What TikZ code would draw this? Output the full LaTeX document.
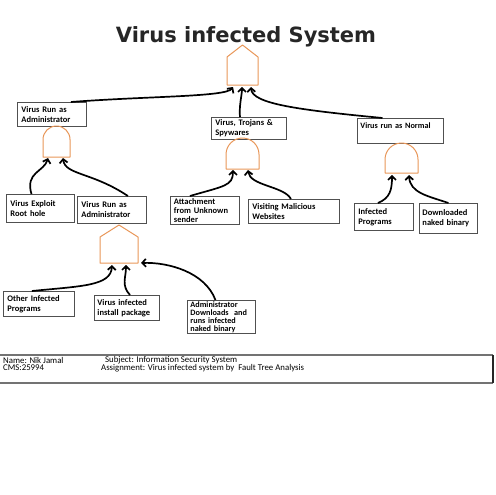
\documentclass[tikz,border=0pt]{standalone}
\usepackage{fontspec}
\setmainfont{Carlito}
\newfontfamily\titlefont{DejaVu Sans}
\usetikzlibrary{arrows.meta}
\definecolor{gatecolor}{RGB}{232,150,88}
\definecolor{boxline}{RGB}{80,80,80}

\begin{document}
\begin{tikzpicture}[x=1pt, y=-1pt,
    box/.style={draw=boxline, line width=0.9pt, anchor=north west, align=left,
        inner xsep=4pt, inner ysep=2pt, font=\bfseries\fontsize{8.5}{10}\selectfont},
    wire/.style={line width=1.7pt, -{Straight Barb[length=3.8pt,width=8pt]}},
    gate/.style={draw=gatecolor, line width=1pt, line join=round},
    foot/.style={anchor=west, inner sep=0pt, font=\fontsize{8.8}{9}\selectfont}]
    % Gate shapes: left, right, top, bottom
    \newcommand{\orgatepath}[4]{\draw[gate] (#1,#4) -- (#1,#3+12) -- ({(#1+#2)/2},#3) -- (#2,#3+12) -- (#2,#4) -- cycle;}
    \newcommand{\andgatepath}[4]{\draw[gate] (#1,#4) -- (#1,{#3+(#2-#1)/2}) arc (180:360:{(#2-#1)/2}) -- (#2,#4) -- cycle;}

    \useasboundingbox (0,0) rectangle (495,495);

    % Title
    \node[font=\titlefont\bfseries\fontsize{21}{24}\selectfont, text=black!85] (title) at (246,37) {Virus infected System};

    % Top event gate
    \orgatepath{227}{258}{45}{85}
    \coordinate (topa) at (233,87);
    \coordinate (topb) at (242,87);
    \coordinate (topc) at (251,87);

    % Second level events
    \node[box, text width=61pt, minimum height=24pt] (runadmin) at (17,102) {Virus Run as\\\mbox{Administrator}};
    \node[box, text width=67pt, minimum height=22pt] (trojans) at (211,117) {\mbox{Virus, Trojans \&}\\Spywares};
    \node[box, text width=80pt, minimum height=25pt, inner xsep=3pt, font=\bfseries\fontsize{8.2}{10}\selectfont] (normal) at (357,118) {\mbox{Virus run as Normal}\\~};

    % Second level gates
    \andgatepath{43}{70}{126}{157}
    \andgatepath{226}{259}{138}{169}
    \andgatepath{385}{418}{143}{173}
    \coordinate (anda) at (48,158);
    \coordinate (andb) at (63,158);
    \coordinate (andc) at (233,170);
    \coordinate (andd) at (248,170);
    \coordinate (ande) at (392,175);
    \coordinate (andf) at (409,175);

    % Basic events
    \node[box, text width=60pt, minimum height=28pt] (exploit) at (6,194) {Virus Exploit\\Root hole};
    \node[box, text width=61pt, minimum height=27pt] (runadmintwo) at (77,196) {Virus Run as\\\mbox{Administrator}};
    \node[box, text width=62pt, minimum height=28pt, inner ysep=0.5pt, inner xsep=3.5pt, font=\bfseries\fontsize{8.5}{9}\selectfont] (attach) at (170,196) {Attachment\\\mbox{from Unknown}\\sender};
    \node[box, text width=83pt, minimum height=24pt] (websites) at (248,199) {\mbox{Visiting Malicious}\\Websites};
    \node[box, text width=51pt, minimum height=27pt] (infprog) at (354,203) {Infected\\Programs};
    \node[box, text width=52pt, minimum height=30pt, inner xsep=3pt] (naked) at (419,203) {\mbox{Downloaded}\\\mbox{naked binary}};

    % Third level gate
    \orgatepath{100}{138}{225}{263}
    \coordinate (ora) at (112,265);
    \coordinate (orb) at (126,265);
    \coordinate (orc) at (141,263);

    % Third level events
    \node[box, text width=63pt, minimum height=25pt] (otherprog) at (3,291) {\mbox{Other Infected}\\Programs};
    \node[box, text width=59pt, minimum height=25pt, inner xsep=3pt] (package) at (94,295) {\mbox{Virus infected}\\\mbox{install package}};
    \node[box, text width=62pt, minimum height=33pt, inner ysep=0.5pt, inner xsep=3pt, font=\bfseries\fontsize{8.2}{8}\selectfont] (admindl) at (187,300) {\mbox{Administrator}\\\mbox{Downloads~~and}\\\mbox{runs infected}\\\mbox{naked binary}};

    % Connectors into top gate
    \draw[wire] ([xshift=-16pt]runadmin.north east) .. controls (150,96) and (226,97) .. (topa);
    \draw[wire] ([xshift=-9pt]trojans.north) .. controls (239,105) and (242,95) .. (topb);
    \draw[wire] ([xshift=-18pt]normal.north) .. controls (300,110) and (252,104) .. (topc);

    % Connectors into second level gates
    \draw[wire] ([xshift=-9pt]exploit.north) .. controls (25,172) and (44,172) .. (anda);
    \draw[wire] ([xshift=-19pt]runadmintwo.north east) .. controls (92,172) and (65,175) .. (andb);
    \draw[wire] ([xshift=-15pt]attach.north) .. controls (224,186) and (233,186) .. (andc);
    \draw[wire] ([xshift=-3pt]websites.north) .. controls (284,186) and (250,186) .. (andd);
    \draw[wire] ([xshift=-6pt]infprog.north) .. controls (390,198) and (392,190) .. (ande);
    \draw[wire] ([xshift=0pt]naked.north) .. controls (428,196) and (410,193) .. (andf);

    % Connectors into third level gate
    \draw[wire] ([xshift=-7pt]otherprog.north) .. controls (82,286) and (111,286) .. (ora);
    \draw[wire] ([xshift=3pt]package.north) .. controls (121,285) and (126,278) .. (orb);
    \draw[wire] ([xshift=-6pt]admindl.north) .. controls (205,272) and (168,262) .. (orc);

    % Footer
    \draw[black!55, line width=1.3pt] (0,355) -- (493,355);
    \draw[black!55, line width=1.3pt] (0,383) -- (493,383);
    \draw[black!85, line width=1.2pt] (493,355) -- (493,383);
    \node[foot] (name) at (3,360) {Name: Nik Jamal};
    \node[foot] (cms) at (3,368) {CMS:25994};
    \node[foot] (subject) at (105,360) {Subject: Information Security System};
    \node[foot] (assign) at (101,368) {Assignment: Virus infected system by~~Fault Tree Analysis};
\end{tikzpicture}
\end{document}
